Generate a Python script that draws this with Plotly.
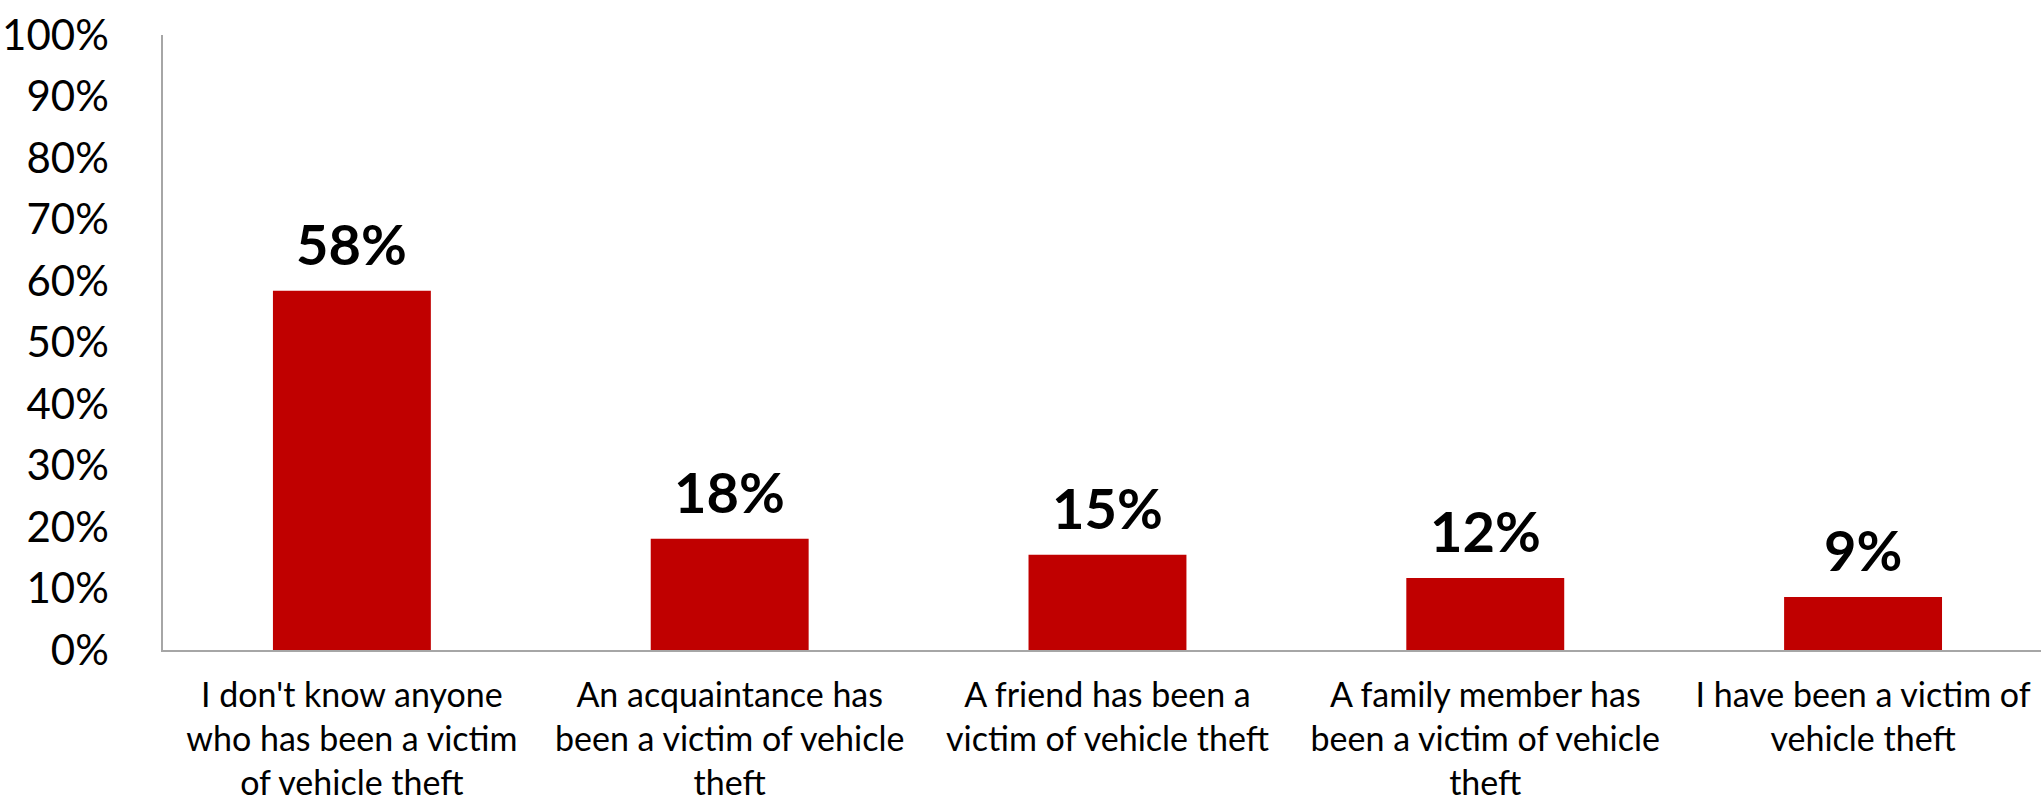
import plotly.graph_objects as go

categories = [
    "I don't know anyone<br>who has been a victim<br>of vehicle theft",
    "An acquaintance has<br>been a victim of vehicle<br>theft",
    "A friend has been a<br>victim of vehicle theft",
    "A family member has<br>been a victim of vehicle<br>theft",
    "I have been a victim of<br>vehicle theft",
]
values = [58.4, 18.1, 15.5, 11.7, 8.6]
labels = ["58%", "18%", "15%", "12%", "9%"]
y_ticks = [0, 10, 20, 30, 40, 50, 60, 70, 80, 90, 100]
y_tick_text = [f"{v}%" for v in y_ticks]

fig = go.Figure()
fig.add_trace(go.Bar(
    x=list(range(len(categories))),
    y=values,
    marker=dict(color="#C00000", line=dict(width=0)),
    width=0.418,
    hoverinfo="skip",
))

for i, (v, t) in enumerate(zip(values, labels)):
    fig.add_annotation(
        x=i, y=v, text=f"<b>{t}</b>", showarrow=False,
        yanchor="bottom", yshift=12,
        font=dict(family="Lato, 'Open Sans', sans-serif", size=56, color="#000000"),
    )

fig.update_layout(
    width=2041, height=803,
    margin=dict(l=163, r=0, t=35, b=153),
    paper_bgcolor="white", plot_bgcolor="white",
    showlegend=False,
    font=dict(family="Lato, 'Open Sans', sans-serif", color="#000000"),
)
fig.update_xaxes(
    range=[-0.5, 4.471],
    tickmode="array",
    tickvals=list(range(len(categories))),
    ticktext=categories,
    tickfont=dict(size=34, color="#000000"),
    showline=True, linecolor="#A6A6A6", linewidth=1.5,
    showgrid=False, zeroline=False, automargin=False,
    ticks="", ticklabelstandoff=14,
)
fig.update_yaxes(
    range=[0, 100],
    tickmode="array",
    tickvals=y_ticks,
    ticktext=y_tick_text,
    tickfont=dict(size=42, color="#000000"),
    showline=True, linecolor="#A6A6A6", linewidth=1.5,
    showgrid=False, zeroline=False, automargin=False,
    ticks="", ticklabelstandoff=44,
)

fig.write_html("out.html")
